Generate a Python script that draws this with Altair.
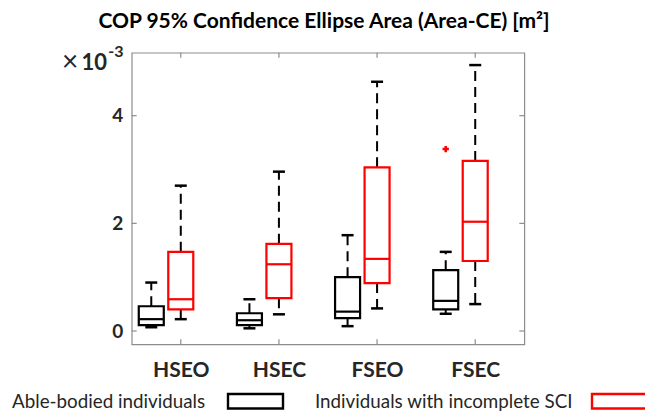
import json
import altair as alt
import pandas as pd

# Conditions along the x axis
categories = ["HSEO", "HSEC", "FSEO", "FSEC"]
groups = ["Able-bodied individuals", "Individuals with incomplete SCI"]
group_colors = ["#000000", "#ff0000"]

# Area-CE box statistics, in units of 1e-3 m^2
ab_low = [0.07, 0.05, 0.09, 0.32]
ab_q1 = [0.11, 0.11, 0.24, 0.40]
ab_median = [0.22, 0.20, 0.36, 0.56]
ab_q3 = [0.46, 0.33, 1.00, 1.13]
ab_high = [0.90, 0.59, 1.78, 1.47]

sci_low = [0.22, 0.31, 0.42, 0.50]
sci_q1 = [0.40, 0.61, 0.89, 1.30]
sci_median = [0.59, 1.24, 1.34, 2.03]
sci_q3 = [1.47, 1.62, 3.04, 3.16]
sci_high = [2.70, 2.96, 4.63, 4.94]

# Outlier (SCI group)
outlier_category = ["FSEC"]
outlier_value = [3.38]

y_ticks = [0, 2, 4]

# ---- layout (pixels) ----
W, H = 392.6, 291.6
PAD_L, PAD_T = 131.7, 52.7
unit = W / 4.0
offset = {groups[0]: -29.5 / unit, groups[1]: 0.0}
box_half = 12.5 / unit
cap_half = 6.0 / unit
FONT = "Lato"
TEXT = "#262626"
FRAME = "#8c8c8c"

rows = []
for g, lo, q1, md, q3, hi in [
    (groups[0], ab_low, ab_q1, ab_median, ab_q3, ab_high),
    (groups[1], sci_low, sci_q1, sci_median, sci_q3, sci_high),
]:
    for i, c in enumerate(categories):
        rows.append(dict(category=c, group=g, idx=i + 1, low=lo[i], q1=q1[i],
                         median=md[i], q3=q3[i], high=hi[i]))
df = pd.DataFrame(rows)
df["pos"] = df["idx"] + df["group"].map(offset)
df["box_l"] = df["pos"] - box_half
df["box_r"] = df["pos"] + box_half
df["cap_l"] = df["pos"] - cap_half
df["cap_r"] = df["pos"] + cap_half

out_df = pd.DataFrame({
    "category": outlier_category,
    "value": outlier_value,
    "group": [groups[1]] * len(outlier_value),
})
out_df["pos"] = out_df["category"].map({c: i + 1 for i, c in enumerate(categories)}) + offset[groups[0]]

xs = alt.Scale(domain=[0.5, 4.5], nice=False, zero=False)
ys = alt.Scale(domain=[-0.247, 5.17], nice=False, zero=False)
cs = alt.Scale(domain=groups, range=group_colors)

label_expr = json.dumps(categories) + "[datum.value - 1]"
x_axis = alt.Axis(values=[1, 2, 3, 4], labelExpr=label_expr, title=None, ticks=False,
                  tickSize=0, domain=False, grid=False, labelFont=FONT,
                  labelFontWeight="bold", labelFontSize=21, labelColor=TEXT,
                  labelBaseline="alphabetic", labelPadding=32)
y_axis = alt.Axis(values=y_ticks, format="d", title=None, ticks=False, tickSize=0,
                  domain=False, grid=False, labelFont=FONT, labelFontWeight="bold",
                  labelFontSize=19, labelColor=TEXT, labelPadding=9,
                  labelBaseline="middle")

base = alt.Chart(df)

whisk_up = base.mark_rule(color="black", strokeWidth=2, strokeDash=[10, 6]).encode(
    x=alt.X("pos:Q", scale=xs, axis=x_axis),
    y=alt.Y("q3:Q", scale=ys, axis=y_axis),
    y2="high:Q",
)
whisk_dn = base.mark_rule(color="black", strokeWidth=2, strokeDash=[10, 6]).encode(
    x=alt.X("pos:Q", scale=xs), y=alt.Y("q1:Q", scale=ys), y2="low:Q"
)
cap_hi = base.mark_rule(color="black", strokeWidth=2.5).encode(
    x=alt.X("cap_l:Q", scale=xs), x2="cap_r:Q", y=alt.Y("high:Q", scale=ys)
)
cap_lo = base.mark_rule(color="black", strokeWidth=2.5).encode(
    x=alt.X("cap_l:Q", scale=xs), x2="cap_r:Q", y=alt.Y("low:Q", scale=ys)
)
boxes = base.mark_rect(fillOpacity=0, strokeWidth=2.2).encode(
    x=alt.X("box_l:Q", scale=xs), x2="box_r:Q",
    y=alt.Y("q1:Q", scale=ys), y2="q3:Q",
    stroke=alt.Stroke("group:N", scale=cs, legend=None),
)
medians = base.mark_rule(strokeWidth=2.2).encode(
    x=alt.X("box_l:Q", scale=xs), x2="box_r:Q",
    y=alt.Y("median:Q", scale=ys),
    color=alt.Color("group:N", scale=cs, legend=None),
)
outliers = alt.Chart(out_df).mark_point(shape="cross", filled=True, size=40, opacity=1).encode(
    x=alt.X("pos:Q", scale=xs), y=alt.Y("value:Q", scale=ys),
    color=alt.Color("group:N", scale=cs, legend=None),
)

# inward tick marks on all four sides of the box
ytick_df = pd.DataFrame({"v": y_ticks})
xtick_df = pd.DataFrame({"v": list(range(1, len(categories) + 1))})
tick_style = dict(color=FRAME, strokeWidth=1.2)
t_left = alt.Chart(ytick_df).mark_rule(**tick_style).encode(
    y=alt.Y("v:Q", scale=ys), x=alt.value(0), x2=alt.value(5))
t_right = alt.Chart(ytick_df).mark_rule(**tick_style).encode(
    y=alt.Y("v:Q", scale=ys), x=alt.value(W - 5), x2=alt.value(W))
t_bottom = alt.Chart(xtick_df).mark_rule(**tick_style).encode(
    x=alt.X("v:Q", scale=xs), y=alt.value(H), y2=alt.value(H - 5))
t_top = alt.Chart(xtick_df).mark_rule(**tick_style).encode(
    x=alt.X("v:Q", scale=xs), y=alt.value(0), y2=alt.value(5))


def text(label, x, y, size, weight="normal", align="left", color=TEXT):
    return alt.Chart(pd.DataFrame({"t": [label]})).mark_text(
        font=FONT, fontSize=size, fontWeight=weight, align=align,
        baseline="alphabetic", color=color,
    ).encode(text="t:N", x=alt.value(x), y=alt.value(y))


def legend_box(x0, x1, color):
    return alt.Chart(pd.DataFrame({"k": [0]})).mark_rect(
        fillOpacity=0, strokeWidth=2.4, stroke=color,
    ).encode(x=alt.value(x0), x2=alt.value(x1),
             y=alt.value(394 - PAD_T), y2=alt.value(408.5 - PAD_T))


title = text("COP 95% Confidence Ellipse Area (Area-CE) [m²]", 324 - PAD_L, -24.5, 21,
             "bold", "center", "#000000")
exp_times = text("×", 62 - PAD_L, 18.5, 28, "normal", "left")
exp_base = text("10", -24.7, 17.5, 22, "bold", "right")
exp_sup = text("-3", -23.5, 4.0, 16, "bold", "left")

leg_text_1 = text(groups[0], 12 - PAD_L, 408 - PAD_T, 18.8)
leg_text_2 = text(groups[1], 315 - PAD_L, 408 - PAD_T, 18.8)
leg_box_1 = legend_box(228 - PAD_L, 283 - PAD_L, group_colors[0])
leg_box_2 = legend_box(592 - PAD_L, 660 - PAD_L, group_colors[1])

chart = alt.layer(
    whisk_up, whisk_dn, cap_hi, cap_lo, boxes, medians, outliers,
    t_left, t_right, t_bottom, t_top,
    title, exp_times, exp_base, exp_sup,
    leg_text_1, leg_text_2, leg_box_1, leg_box_2,
).properties(
    width=W, height=H,
    autosize="none",
    padding={"left": PAD_L, "top": PAD_T, "right": 645 - PAD_L - W, "bottom": 415 - PAD_T - H},
    background="white",
).configure_view(stroke=FRAME, strokeWidth=1.2)

chart.save("out.html", embed_options={"renderer": "svg", "actions": False})
